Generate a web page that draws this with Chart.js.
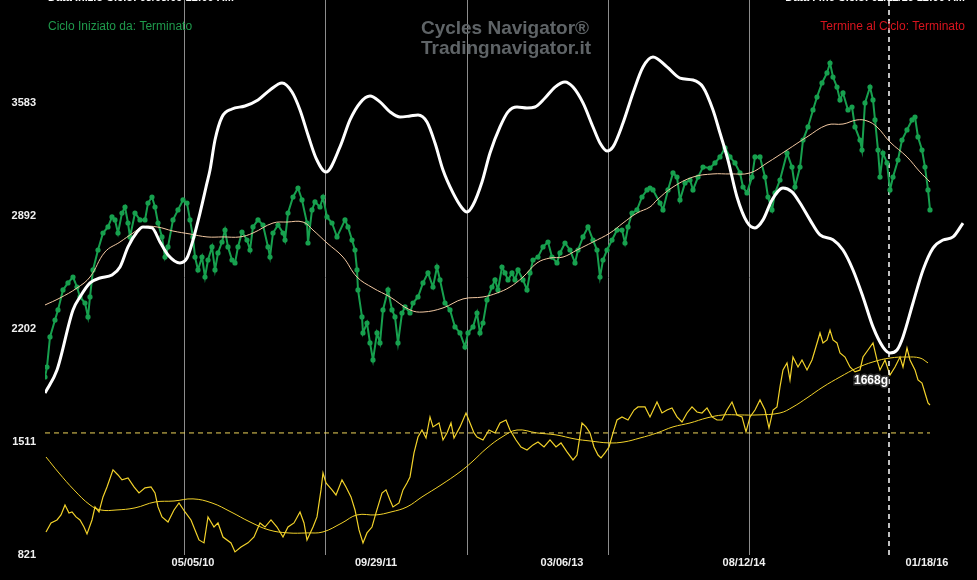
<!DOCTYPE html>
<html>
<head>
<meta charset="utf-8">
<script src="https://cdn.jsdelivr.net/npm/chart.js@4"></script>
<style>
  html, body { margin: 0; padding: 0; background: #000; }
  #wrap { width: 977px; height: 580px; }
</style>
</head>
<body>
<div id="wrap"><canvas id="myChart" width="977" height="580"></canvas></div>
<script>
// bar index runs 0..920 across the plot
const xTickBars  = [148, 331, 517, 699, 882];
const xTickNames = ['05/05/10', '09/29/11', '03/06/13', '08/12/14', '01/18/16'];
const gridBars   = [139, 280, 422, 563, 704];
const yTicks     = [821, 1511, 2202, 2892, 3583];
const cycleEndBar = 844;
const levelLine  = 1567;
const cycleLabel = { bar: 826, value: 1885, text: '1668g' };

// cycle (white)
const cycle = [[0,1811],[12,1952],[28,2319],[35,2398],[45,2484],[55,2514],[67,2532],[75,2581],[83,2704],[92,2795],
  [98,2826],[107,2820],[115,2734],[123,2655],[135,2606],[142,2636],[148,2746],[155,2911],[162,3095],[165,3174],
  [170,3357],[177,3498],[187,3547],[200,3565],[213,3602],[225,3663],[237,3706],[247,3651],[255,3541],[263,3388],
  [271,3247],[281,3162],[295,3315],[305,3480],[315,3584],[325,3626],[335,3590],[345,3529],[355,3498],[365,3504],
  [373,3510],[382,3467],[390,3339],[398,3174],[408,3034],[417,2942],[422,2917],[428,2960],[437,3101],[445,3278],
  [455,3437],[463,3529],[472,3559],[482,3553],[490,3559],[500,3614],[510,3681],[520,3712],[528,3681],[538,3584],
  [548,3437],[555,3339],[562,3290],[568,3315],[578,3461],[588,3645],[598,3804],[608,3865],[622,3804],[635,3736],
  [648,3724],[658,3681],[668,3541],[675,3400],[683,3235],[692,3009],[702,2856],[710,2820],[718,2869],[727,2991],
  [738,3064],[747,3040],[755,2972],[765,2869],[775,2777],[788,2748],[798,2685],[808,2563],[818,2398],[828,2215],
  [838,2092],[845,2056],[852,2074],[858,2154],[868,2361],[878,2563],[888,2697],[898,2746],[908,2765],[918,2850]];

// index price (green)
const price = [[0,1909],[2,1970],[5,2154],[10,2257],[13,2319],[18,2441],[23,2484],[28,2520],[32,2459],[35,2398],
  [40,2361],[43,2276],[45,2398],[48,2563],[53,2685],[58,2789],[63,2826],[67,2887],[70,2869],[73,2789],
  [77,2911],[80,2948],[83,2850],[85,2765],[90,2911],[95,2869],[100,2869],[103,2972],[107,3009],[110,2948],
  [113,2850],[117,2765],[120,2642],[123,2704],[128,2869],[133,2930],[138,2991],[142,2972],[145,2869],[148,2765],
  [150,2642],[153,2563],[157,2642],[160,2520],[163,2624],[167,2704],[170,2563],[173,2667],[177,2734],[180,2807],
  [183,2704],[187,2624],[190,2606],[193,2704],[197,2795],[202,2746],[205,2685],[208,2826],[213,2869],[218,2838],
  [223,2704],[225,2642],[228,2789],[233,2838],[238,2789],[240,2746],[243,2911],[248,3009],[253,3064],[257,2991],
  [262,2850],[263,2728],[267,2930],[270,2979],[275,2948],[278,3009],[282,2887],[287,2850],[292,2765],[300,2869],
  [303,2826],[307,2746],[310,2685],[312,2563],[313,2441],[317,2276],[318,2178],[322,2239],[325,2117],[328,2013],
  [332,2178],[335,2117],[338,2319],[343,2441],[347,2319],[350,2276],[353,2117],[357,2300],[360,2337],[365,2300],
  [368,2361],[373,2398],[378,2484],[383,2545],[388,2459],[392,2581],[395,2502],[400,2361],[405,2319],[410,2215],
  [415,2178],[420,2092],[423,2178],[428,2215],[432,2300],[435,2178],[438,2239],[442,2380],[447,2459],[450,2502],
  [453,2441],[457,2581],[460,2545],[463,2502],[467,2545],[470,2502],[473,2563],[478,2502],[482,2441],[485,2545],
  [488,2624],[493,2642],[498,2704],[503,2734],[507,2642],[512,2606],[515,2667],[520,2728],[525,2685],[530,2606],
  [533,2685],[538,2765],[543,2826],[548,2746],[552,2685],[555,2520],[558,2624],[562,2685],[567,2746],[572,2807],
  [577,2807],[580,2728],[583,2826],[587,2911],[592,2930],[597,3009],[602,3052],[605,3064],[608,3052],[615,2972],
  [618,2930],[623,3052],[628,3156],[632,3131],[635,2991],[640,3095],[645,3113],[648,3052],[653,3131],[658,3192],
  [665,3186],[670,3217],[675,3254],[680,3309],[685,3254],[690,3217],[695,3156],[698,3070],[702,3034],[707,3131],
  [710,3254],[715,3254],[720,3131],[723,3009],[727,2930],[730,3034],[735,3113],[742,3278],[747,3192],[750,3070],
  [755,3192],[758,3357],[763,3437],[768,3541],[772,3620],[777,3706],[782,3767],[785,3828],[788,3742],[792,3681],
  [795,3602],[798,3645],[803,3541],[807,3559],[810,3437],[815,3357],[817,3296],[820,3584],[825,3681],[828,3602],
  [830,3480],[833,3296],[835,3131],[838,3278],[842,3217],[845,3052],[848,3131],[853,3235],[857,3357],[862,3419],
  [867,3480],[870,3498],[873,3376],[877,3296],[880,3192],[883,3052],[885,2930]];

// moving average of the index (peach)
const priceAvg = [[0,2349],[15,2392],[32,2453],[45,2520],[60,2673],[75,2734],[88,2789],[98,2826],[112,2826],[128,2801],
  [145,2783],[162,2765],[178,2765],[195,2765],[208,2789],[228,2850],[242,2856],[258,2856],[268,2807],[282,2728],
  [298,2642],[312,2520],[328,2453],[345,2398],[365,2319],[378,2306],[398,2331],[418,2386],[438,2398],[452,2422],
  [465,2459],[478,2520],[492,2606],[505,2636],[518,2642],[532,2685],[548,2734],[565,2789],[578,2850],[592,2911],
  [605,2948],[612,2991],[628,3070],[648,3131],[668,3150],[685,3150],[705,3156],[722,3217],[742,3296],[762,3376],
  [782,3449],[798,3455],[812,3480],[822,3474],[832,3437],[845,3345],[862,3254],[875,3162],[885,3101]];

// second market (yellow)
const second = [[1,962],[6,1017],[12,1035],[16,1066],[20,1127],[24,1078],[27,1084],[31,1054],[35,1035],[39,992],
  [42,950],[47,1035],[50,1115],[54,1084],[58,1176],[62,1237],[68,1341],[73,1310],[77,1280],[83,1292],
  [89,1237],[94,1200],[100,1231],[106,1237],[110,1200],[113,1115],[117,1054],[123,1023],[129,1096],[134,1139],
  [140,1084],[146,1035],[150,974],[154,913],[159,895],[163,1054],[169,992],[173,1017],[178,931],[186,895],
  [190,840],[196,870],[203,895],[209,931],[215,1017],[220,992],[226,1035],[232,992],[238,931],[243,992],
  [249,1017],[255,1084],[259,1017],[262,913],[268,992],[272,1054],[276,1219],[278,1322],[281,1261],[287,1219],
  [291,1188],[297,1280],[301,1237],[306,1176],[310,1096],[314,974],[318,895],[322,956],[327,992],[331,1078],
  [337,1200],[341,1219],[345,1157],[348,1115],[354,1139],[358,1219],[362,1261],[365,1298],[369,1445],[373,1542],
  [377,1585],[381,1536],[385,1665],[388,1604],[394,1628],[398,1524],[402,1567],[406,1628],[409,1536],[415,1604],
  [421,1689],[425,1628],[429,1567],[432,1542],[438,1524],[444,1585],[450,1567],[455,1628],[461,1646],[465,1585],
  [471,1524],[476,1481],[482,1463],[488,1494],[493,1512],[499,1481],[505,1524],[511,1481],[516,1506],[522,1451],
  [528,1402],[532,1432],[537,1628],[541,1604],[545,1567],[549,1481],[553,1432],[556,1414],[560,1445],[564,1481],
  [568,1567],[572,1646],[577,1665],[583,1646],[589,1707],[593,1726],[600,1726],[605,1665],[612,1756],[617,1689],
  [622,1707],[627,1720],[632,1665],[637,1634],[642,1689],[647,1726],[652,1695],[657,1689],[662,1720],[667,1665],
  [672,1646],[677,1646],[682,1707],[687,1756],[692,1677],[697,1665],[701,1573],[705,1665],[710,1707],[715,1769],
  [720,1707],[724,1597],[728,1707],[732,1726],[735,1848],[738,1952],[742,1995],[745,1891],[748,2031],[753,1970],
  [757,2013],[762,1952],[767,2013],[770,2074],[775,2178],[778,2117],[782,2135],[785,2196],[788,2135],[792,2117],
  [795,2056],[800,2031],[805,1970],[810,1940],[815,1952],[818,2031],[823,2074],[828,2117],[832,2013],[835,1952],
  [840,2013],[845,1921],[850,1970],[855,2031],[858,1970],[862,2086],[865,2013],[870,1952],[873,1891],[877,1872],
  [880,1811],[883,1750],[885,1738]];

// moving average of the second market
const secondAvg = [[1,1420],[14,1322],[29,1219],[45,1127],[56,1096],[71,1096],[90,1109],[110,1145],[129,1151],[148,1164],
  [167,1139],[186,1084],[205,1023],[224,974],[243,956],[262,956],[278,962],[297,1017],[312,1066],[331,1066],
  [346,1084],[362,1115],[377,1176],[396,1249],[415,1329],[427,1390],[442,1475],[457,1542],[472,1585],[492,1567],
  [511,1555],[530,1530],[545,1518],[564,1506],[579,1512],[595,1536],[612,1567],[628,1604],[645,1628],[662,1659],
  [678,1677],[695,1677],[712,1677],[735,1689],[748,1726],[762,1781],[778,1848],[795,1909],[812,1964],[828,2001],
  [845,2025],[862,2031],[875,2025],[883,1995]];

const pts = arr => arr.map(p => ({ x: p[0], y: p[1] }));

const WHITE  = '#ffffff';
const GREEN  = '#17a04e';
const PEACH  = '#f3c9a2';
const YELLOW = '#f2d22a';
const FONT   = '"Liberation Sans", Arial, sans-serif';

// keep the plot flush with the canvas edges
function noPad(s) {
  s.paddingTop = 0; s.paddingBottom = 0;
  s.paddingLeft = 0; s.paddingRight = 0;
}

// texts drawn on top of the plot
const overlayText = {
  id: 'overlayText',
  beforeDraw(chart) {
    const c = chart.ctx;
    c.save();
    c.fillStyle = '#000';
    c.fillRect(0, 0, chart.width, chart.height);
    c.restore();
  },
  afterDatasetsDraw(chart) {
    const c = chart.ctx;
    const xs = chart.scales.x, ys = chart.scales.y;
    c.save();
    c.textBaseline = 'middle';

    c.font = 'bold 19px ' + FONT;
    c.fillStyle = '#5f6467';
    c.textAlign = 'center';
    c.fillText('Cycles Navigator\u00AE', 505, 29);
    c.fillText('Tradingnavigator.it', 506, 49);

    c.font = '12px ' + FONT;
    c.textAlign = 'left';
    c.fillStyle = '#1f9a4c';
    c.fillText('Ciclo Iniziato da: Terminato', 48, 27);
    c.textAlign = 'right';
    c.fillStyle = '#d8141e';
    c.fillText('Termine al Ciclo: Terminato', 965, 27);

    // header lines cut by the top edge
    c.textBaseline = 'alphabetic';
    c.font = 'bold 11px ' + FONT;
    c.fillStyle = '#ffffff';
    c.textAlign = 'left';
    c.fillText('Data Inizio Ciclo: 03/03/09 12:00 AM', 48, 1);
    c.textAlign = 'right';
    c.fillText('Data Fine Ciclo: 02/11/16 12:00 AM', 965, 1);

    // cycle length label
    c.textBaseline = 'middle';
    c.textAlign = 'center';
    c.font = 'bold 12px ' + FONT;
    const lx = xs.getPixelForValue(cycleLabel.bar);
    const ly = ys.getPixelForValue(cycleLabel.value);
    c.lineWidth = 3;
    c.strokeStyle = '#333';
    c.strokeText(cycleLabel.text, lx, ly);
    c.fillStyle = '#ffffff';
    c.fillText(cycleLabel.text, lx, ly);
    c.restore();
  }
};

const ctx = document.getElementById('myChart').getContext('2d');

const chart = new Chart(ctx, {
  type: 'line',
  data: {
    datasets: [
      { data: pts(cycle), borderColor: WHITE, borderWidth: 3, pointRadius: 0,
        tension: 0.4, cubicInterpolationMode: 'monotone' },
      { data: pts(priceAvg), borderColor: PEACH, borderWidth: 1, pointRadius: 0, tension: 0.4 },
      { data: pts(price), borderColor: GREEN, borderWidth: 2, pointRadius: 2.6,
        pointBackgroundColor: GREEN, pointBorderWidth: 0, tension: 0 },
      { data: [{ x: cycleEndBar, y: 821 }, { x: cycleEndBar, y: 4213 }],
        borderColor: WHITE, borderWidth: 1.5, borderDash: [5, 4], pointRadius: 0 },
      { data: [{ x: 0, y: levelLine }, { x: 885, y: levelLine }],
        borderColor: '#eed45a', borderWidth: 1, borderDash: [5, 4], pointRadius: 0 },
      { data: pts(secondAvg), borderColor: YELLOW, borderWidth: 1, pointRadius: 0, tension: 0.4 },
      { data: pts(second), borderColor: YELLOW, borderWidth: 1.2, pointRadius: 0, tension: 0 }
    ]
  },
  options: {
    responsive: false,
    devicePixelRatio: 1,
    animation: false,
    layout: { autoPadding: false, padding: { left: 0, right: 12, top: 0, bottom: 0 } },
    plugins: { legend: { display: false }, tooltip: { enabled: false } },
    scales: {
      x: {
        type: 'linear', min: 0, max: 920, position: 'bottom',
        grid: { display: false, drawTicks: false }, border: { display: false },
        afterBuildTicks: s => { s.ticks = xTickBars.map(v => ({ value: v })); },
        afterFit: s => { s.height = 25; noPad(s); },
        ticks: {
          autoSkip: false, maxRotation: 0, padding: 1, color: '#f0f0f0',
          font: { family: FONT, size: 11, weight: 'bold' },
          callback: v => xTickNames[xTickBars.indexOf(v)]
        }
      },
      xg: {
        type: 'linear', min: 0, max: 920, position: 'bottom',
        border: { display: false },
        grid: { color: '#8c8c8c', lineWidth: 1, drawTicks: false },
        afterBuildTicks: s => { s.ticks = gridBars.map(v => ({ value: v })); },
        afterFit: s => { s.height = 0; noPad(s); },
        ticks: { display: false }
      },
      y: {
        min: 821, max: 4213,
        grid: { display: false, drawTicks: false }, border: { display: false },
        afterBuildTicks: s => { s.ticks = yTicks.map(v => ({ value: v })); },
        afterFit: s => { s.width = 45; noPad(s); },
        ticks: {
          padding: 9, color: '#f0f0f0',
          font: { family: FONT, size: 11, weight: 'bold' },
          callback: v => String(v)
        }
      }
    }
  },
  plugins: [overlayText]
});
</script>
</body>
</html>
